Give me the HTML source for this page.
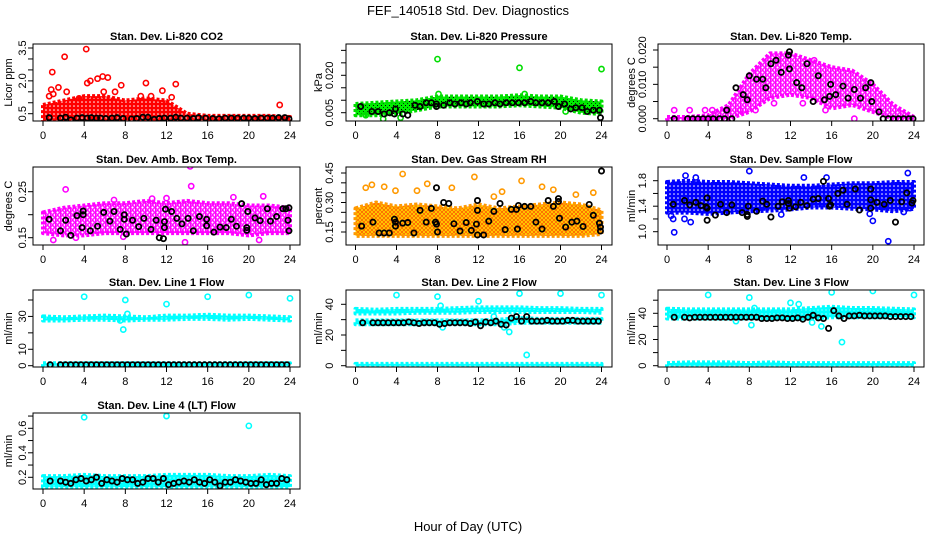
<!DOCTYPE html>
<html><head><meta charset="utf-8"><style>
body{margin:0;background:#fff}
svg{display:block;font-family:"Liberation Sans",Arial,sans-serif}
</style></head><body>
<svg id="chart" width="936" height="540" viewBox="0 0 936 540" xmlns="http://www.w3.org/2000/svg">
<defs>
<pattern id="pat-red" width="4" height="4" patternUnits="userSpaceOnUse"><rect width="4" height="4" fill="#ff0000"/><circle cx="2" cy="2" r="0.8" fill="#fff"/></pattern>
<pattern id="pat-mag" width="5" height="5" patternUnits="userSpaceOnUse"><rect width="5" height="5" fill="#fff"/><circle cx="2.5" cy="2.5" r="1.8" fill="none" stroke="#ff00ff" stroke-width="1.4"/><rect x="0" y="0" width="1" height="5" fill="#ff00ff"/></pattern>
<pattern id="pat-blue" width="4" height="4" patternUnits="userSpaceOnUse"><rect width="4" height="4" fill="#0000ff"/><circle cx="2" cy="2" r="0.8" fill="#fff"/></pattern>
<pattern id="pat-cyan" width="4" height="4" patternUnits="userSpaceOnUse"><rect width="4" height="4" fill="#00ffff"/><circle cx="2" cy="2" r="0.6" fill="#ccffff"/></pattern>
<pattern id="rhpat" width="4" height="4" patternUnits="userSpaceOnUse"><rect width="4" height="4" fill="#ffff00"/><circle cx="2" cy="2" r="1.5" fill="none" stroke="#ff7000" stroke-width="1.2"/></pattern>
<pattern id="prpat" width="4" height="4" patternUnits="userSpaceOnUse"><rect width="4" height="4" fill="#00ee00"/><rect x="1" y="1" width="1" height="1" fill="#000"/><rect x="3" y="3" width="1" height="1" fill="#004400"/></pattern>
</defs>
<text x="468" y="15" text-anchor="middle" font-size="13">FEF_140518  Std. Dev. Diagnostics</text>
<text x="468" y="531" text-anchor="middle" font-size="13">Hour of Day (UTC)</text>
</svg>
<script>
// ===== data =====
const H = [0,2,4,6,8,10,12,14,16,18,20,22,24];
const xTicks = [0,4,8,12,16,20,24];
// P1 CO2
const co2Lo = [0.2,0.2,0.2,0.2,0.2,0.2,0.2,0.2,0.2,0.2,0.2,0.2,0.2];
const co2Hi = [0.9,1.1,1.3,1.3,1.1,1.2,1.1,0.5,0.4,0.4,0.4,0.4,0.35];
const co2OutX = [0.6,0.9,0.8,1.0,1.5,2.1,2.3,4.2,4.3,4.6,5.3,5.8,5.9,6.3,7,7.6,10,11.6,12.9,12.5,23,3.5,9.5,10.5];
const co2OutY = [1.3,2.4,1.6,1.4,1.7,3.1,1.5,3.45,1.9,2.0,2.1,2.2,1.5,2.15,1.5,1.8,1.9,1.55,1.85,1.25,0.9,1.2,1.3,1.3];
const co2BX = [0.6,1.7,2.2,2.7,3.3,3.8,4.3,4.7,5.2,5.6,6.1,6.7,7.2,7.8,8.6,9.1,9.7,10.2,10.8,11.3,11.8,12.4,12.9,13.4,14,14.6,15.1,15.8,16.5,17.1,17.7,18.3,18.9,19.5,20,20.6,21.2,21.8,22.3,22.9,23.5,23.9];
const co2BY = [0.32,0.3,0.34,0.22,0.3,0.32,0.3,0.32,0.3,0.3,0.28,0.3,0.32,0.28,0.26,0.28,0.34,0.34,0.24,0.28,0.3,0.3,0.34,0.3,0.3,0.28,0.32,0.3,0.28,0.27,0.3,0.3,0.3,0.3,0.3,0.28,0.3,0.3,0.3,0.32,0.32,0.26];
// P2 Pressure
const prLo = [0.004,0.004,0.0045,0.006,0.0075,0.0075,0.0075,0.0075,0.008,0.0075,0.007,0.005,0.0045];
const prHi = [0.0085,0.009,0.0095,0.010,0.0115,0.0115,0.0115,0.0115,0.012,0.0115,0.0115,0.010,0.0095];
const prOutX = [8,16,24,8.1,2.7,4.4,20.5,1,16.5];
const prOutY = [0.0265,0.023,0.0225,0.0125,0.0025,0.003,0.0055,0.004,0.0125];
const prBX = [0.5,1.6,2.2,2.8,3.3,3.8,3.9,4.6,5.1,5.8,6.3,6.9,7.4,7.9,7.9,8.6,9.2,9.7,10.3,10.8,11.2,11.9,12.5,13.0,13.6,14.1,14.7,15.3,15.9,16.5,17.1,17.6,18.2,18.8,19.4,19.8,20.4,21,21.5,22.1,22.6,23.2,23.8,23.9];
const prBY = [0.0075,0.0055,0.0055,0.0045,0.005,0.0045,0.0065,0.0045,0.004,0.008,0.0075,0.009,0.009,0.0085,0.0075,0.008,0.009,0.0085,0.009,0.0085,0.009,0.0095,0.0085,0.0085,0.009,0.0085,0.009,0.009,0.009,0.009,0.0095,0.009,0.009,0.009,0.0095,0.0075,0.0085,0.0065,0.007,0.007,0.0055,0.006,0.006,0.003];
// P3 Li-820 Temp
const ltLo = [0,0,0,0,0.002,0.006,0.007,0.006,0.003,0.004,0.002,0,0];
const ltHi = [0.0005,0.0005,0.001,0.004,0.013,0.019,0.019,0.017,0.015,0.014,0.01,0.004,0.0005];
const ltOutX = [0.7,2.2,3.7,4.4,7.1,8.6,10.4,14.3,18.2,15.4,13.2];
const ltOutY = [0.0025,0.0025,0.0025,0.0025,0.0025,0.0025,0.0045,0.017,0,0.0025,0.0045];
const ltBX = [0.7,2,2.5,3,3.5,4,4.5,5.1,5.6,6.3,5.8,6.7,7.4,7.8,8,8.7,9.3,9.6,10.1,10.6,11.1,11.8,11.9,11.9,12.6,13.1,13.6,14.2,14.7,15.3,15.8,15.9,16.4,17.1,17.6,18.2,18.8,19.3,19.8,19.9,20.6,21,21.5,22,22.5,23,23.5,23.9];
const ltBY = [0,0,0,0,0,0,0,0,0,0,0.0025,0.009,0.007,0.0055,0.0125,0.0115,0.0115,0.009,0.016,0.017,0.0135,0.0185,0.0195,0.0145,0.0105,0.009,0.016,0.005,0.0125,0.0055,0.0065,0.010,0.007,0.0095,0.006,0.0085,0.006,0.009,0.0105,0.005,0.002,0,0,0,0,0,0,0];
// P4 Amb Box Temp
const abLo = [0.16,0.155,0.155,0.16,0.16,0.16,0.16,0.16,0.16,0.16,0.155,0.16,0.16];
const abHi = [0.205,0.215,0.22,0.225,0.225,0.23,0.225,0.23,0.225,0.225,0.22,0.22,0.215];
const abOutX = [14.3,14.4,2.2,1,13.8,21,6.9,18.5,21.4,12,10.6,3.2,7.8];
const abOutY = [0.305,0.262,0.255,0.145,0.14,0.145,0.232,0.238,0.24,0.236,0.235,0.15,0.152];
const abBX = [0.6,1.7,2.2,2.7,3.3,3.8,3.9,3.9,4.6,5.3,5.9,6.5,6.9,7.5,7.9,7.9,8.1,8.7,9.3,9.8,10.5,11,11.3,11.7,11.8,11.8,11.9,12.5,13,13.5,14.1,14.6,15.2,15.9,15.9,16.6,17.2,17.8,18.3,18.8,19.3,19.8,19.8,19.9,20.6,21.1,21.8,22.1,22.7,23.3,23.6,23.9,23.8,23.9];
const abBY = [0.19,0.165,0.188,0.155,0.198,0.172,0.208,0.2,0.165,0.175,0.205,0.186,0.207,0.168,0.2,0.19,0.158,0.188,0.174,0.192,0.168,0.188,0.15,0.148,0.172,0.185,0.212,0.207,0.192,0.18,0.192,0.165,0.196,0.176,0.19,0.162,0.173,0.172,0.19,0.175,0.224,0.166,0.172,0.207,0.193,0.187,0.213,0.186,0.196,0.213,0.213,0.215,0.188,0.165];
// P5 Gas Stream RH
const rhLo = [0.13,0.13,0.13,0.13,0.13,0.13,0.13,0.13,0.13,0.13,0.13,0.13,0.14];
const rhHi = [0.27,0.3,0.28,0.29,0.28,0.27,0.29,0.27,0.28,0.29,0.3,0.29,0.26];
const rhOutX = [4.6,11.6,16.2,7,1.6,1,2.8,9.4,3.9,18.2,19.3,14.3,23.2,6,13.5,21.5];
const rhOutY = [0.445,0.43,0.41,0.395,0.39,0.375,0.38,0.375,0.36,0.38,0.365,0.355,0.35,0.36,0.33,0.34];
const rhBX = [0.6,1.7,2.3,2.8,3.3,3.8,3.9,3.9,4.6,5.1,5.7,6.3,6.9,7.4,7.8,7.9,7.9,8,8.6,9.1,9.6,10.2,10.8,11.3,11.8,11.9,11.9,11.9,12.5,13,13.5,14.1,14.6,15.2,15.7,15.8,15.9,16.5,17.1,17.6,18.2,18.8,19.3,19.8,19.8,19.9,20.5,21.1,21.6,22.2,22.8,23.2,23.8,23.9,23.9,24];
const rhBY = [0.18,0.2,0.145,0.145,0.145,0.215,0.2,0.18,0.195,0.198,0.145,0.26,0.2,0.27,0.2,0.19,0.375,0.15,0.3,0.295,0.192,0.155,0.198,0.158,0.19,0.135,0.31,0.26,0.135,0.205,0.255,0.295,0.162,0.265,0.265,0.165,0.285,0.28,0.28,0.2,0.165,0.31,0.28,0.32,0.305,0.22,0.175,0.2,0.205,0.178,0.29,0.235,0.195,0.175,0.155,0.46];
// P6 Sample Flow
const sfLo = [1.3,1.3,1.28,1.3,1.32,1.33,1.35,1.38,1.38,1.36,1.35,1.32,1.36];
const sfHi = [1.78,1.8,1.78,1.78,1.76,1.74,1.72,1.72,1.74,1.76,1.76,1.78,1.78];
const sfOutX = [0.7,0.4,0.6,1.7,2.3,8,1.8,23.4,21.5,20,11.1,19.7,23.6,23,15.5,2.8,13.3];
const sfOutY = [0.99,1.25,1.2,1.2,1.15,1.95,1.88,1.92,0.85,1.17,1.27,1.28,1.37,1.31,1.85,1.85,1.85];
const sfBX = [0.6,1.7,2.2,2.8,3.3,3.8,3.9,3.9,3.9,4.7,5.2,5.8,6.3,7.3,7.8,7.8,7.9,8.7,9.3,9.7,10.1,10.8,11.2,11.8,11.8,11.9,12.5,13,13.6,14.2,14.7,15.2,15.7,15.8,15.9,16.6,17.1,17.5,18.3,18.7,19.8,19.8,19.8,20.4,21.1,21.7,22.2,22.8,23.3,23.8,23.9];
const sfBY = [1.43,1.49,1.42,1.46,1.41,1.39,1.53,1.37,1.18,1.26,1.43,1.3,1.42,1.3,1.27,1.24,1.4,1.32,1.48,1.43,1.23,1.4,1.47,1.44,1.49,1.37,1.39,1.46,1.41,1.51,1.52,1.79,1.52,1.4,1.42,1.6,1.65,1.43,1.67,1.34,1.67,1.5,1.37,1.46,1.43,1.49,1.15,1.47,1.61,1.45,1.49];
// shared hourly hours for black points on flow lines
const flowBX = [0.7,1.7,2.2,2.7,3.2,3.7,4.2,4.7,5.2,5.7,6.2,6.7,7.2,7.7,8.2,8.7,9.2,9.7,10.2,10.7,11.2,11.7,12.2,12.7,13.2,13.7,14.2,14.7,15.2,15.7,16.2,16.7,17.2,17.7,18.2,18.7,19.2,19.7,20.2,20.7,21.2,21.7,22.2,22.7,23.2,23.7];
// P7 Line 1
const l1ALo = [27.5,27.5,28,28,27.5,28,28,28.5,28.5,28,28.5,28,27.5];
const l1AHi = [30,29.5,30,30.5,30,29.5,30.5,30.5,31,30.5,30.5,30,29.5];
const l1BLo = [0,0,0,0,0,0,0,0,0,0,0,0,0];
const l1BHi = [1.5,1.5,1.5,1.5,1.5,1.5,1.5,1.5,1.5,1.5,1.5,1.5,1.5];
const l1OutX = [4,8,12,16,20,24,7.8,8.2,7.5];
const l1OutY = [42,40,37.5,42,43,41,22,31.5,27.5];
const l1BY = [0.6,0.6,0.6,0.6,0.6,0.6,0.6,0.6,0.6,0.6,0.6,0.6,0.6,0.6,0.6,0.6,0.6,0.6,0.6,0.6,0.6,0.6,0.6,0.6,0.6,0.6,0.6,0.6,0.6,0.6,0.6,0.6,0.6,0.6,0.6,0.6,0.6,0.6,0.6,0.6,0.6,0.6,0.6,0.6,0.6,0.6];
// P8 Line 2
const l2ALo = [34,34,34,34.5,34.5,34.5,35,35,35,35,35,35,34.5];
const l2AHi = [37,36.5,37,37,37,37.5,38,38,38,37.5,37.5,37,37];
const l2BLo = [27,27,27,27,27,27,27,27,28,28,28,28,28];
const l2BHi = [29.5,29.5,29.5,29.5,29.5,29.5,29.5,30,31,30.5,30.5,30.5,30.5];
const l2CLo = [0,0,0,0,0,0,0,0,0,0,0,0,0];
const l2CHi = [1.2,1.2,1.2,1.2,1.2,1.2,1.2,1.2,1.2,1.2,1.2,1.2,1.2];
const l2OutX = [4,8,12,16,20,24,16.7,15,8.5,8.3,13.5,14.5];
const l2OutY = [46,45,42,47,47,46,7,22,25,39,32,25];
const l2BY = [28,28,28,28,28,28,28,28,28.5,28,27.5,28,28,28,27,27.5,28,28,28,28,27.5,28.5,26,28.5,28,29,27,26.5,31,32,29,32,29,29,29,29.5,29,29,29,29.5,29.5,29,29,29,29,29];
// P9 Line 3
const l3ALo = [36,36,36,36,36,36,36,36,37,37,37,37,37];
const l3AHi = [43.5,43,43,43,43,43,43,44,45,44,44,43.5,43];
const l3BLo = [0,0,0,0,0,0,0,0,0,0,0,0,0];
const l3BHi = [2,2.5,2.5,2.5,2,2.5,2,2,2,2,2,2,2];
const l3OutX = [4,8,12,16,20,24,17,15,8.5,8.2,12.8,6.7,14.1];
const l3OutY = [54,52,48,56,57,54,18,30,44,31,47,34,33];
const l3BY = [37,37,36.5,37,37,37,37,37,37,37,37,37,37,37,37,37,36,36,36,36.5,36.5,36,36,36.5,35.5,37,38.5,36.5,36,28.5,42,38,36,38,38,38.5,38,38,38,38,38,37.5,37.5,37.5,37.5,37.5];
// P10 Line 4 (LT)
const l4Lo = [0.12,0.12,0.12,0.12,0.12,0.12,0.12,0.12,0.12,0.12,0.12,0.12,0.12];
const l4Hi = [0.21,0.21,0.22,0.21,0.21,0.21,0.22,0.22,0.22,0.21,0.21,0.22,0.21];
const l4OutX = [4,12,20];
const l4OutY = [0.69,0.70,0.62];
const l4BY = [0.17,0.17,0.16,0.15,0.18,0.19,0.17,0.18,0.2,0.15,0.18,0.17,0.16,0.19,0.18,0.18,0.15,0.16,0.19,0.19,0.16,0.19,0.14,0.15,0.16,0.17,0.16,0.18,0.16,0.15,0.18,0.16,0.13,0.16,0.16,0.18,0.17,0.16,0.15,0.15,0.18,0.14,0.15,0.15,0.19,0.18];

// ===== layout =====
const cols = [{x0:33,x1:300,h0:43,h24:290,tl:11,tt:25},{x0:346,x1:612,h0:355.5,h24:601.5,tl:17,tt:28},{x0:658,x1:924,h0:667,h24:914,tl:16,tt:27}];
const rows = [{y0:44,y1:121},{y0:167,y1:245},{y0:290,y1:367},{y0:413,y1:489}];
const NS = 'http://www.w3.org/2000/svg';
const svg = document.getElementById('chart');
function mk(tag, attrs, parent){const e=document.createElementNS(NS,tag);for(const k in attrs)e.setAttribute(k,attrs[k]);(parent||svg).appendChild(e);return e;}

const panels = [
 {key:'co2',title:'Stan. Dev. Li-820 CO2',ylab:'Licor ppm',c:0,r:0,v1:0.5,p1:113.7,v2:3.5,p2:48,ticks:[0.5,1,1.5,2,2.5,3,3.5],labels:[[0.5,'0.5'],[2,'2.0'],[3.5,'3.5']],col:'#ff0000',fill:'url(#pat-red)',bands:[[co2Lo,co2Hi]],ox:co2OutX,oy:co2OutY,bx:co2BX,by:co2BY},
 {key:'pressure',title:'Stan. Dev. Li-820 Pressure',ylab:'kPa',c:1,r:0,v1:0.005,p1:112.7,v2:0.020,p2:75.3,ticks:[0.005,0.01,0.015,0.02,0.025,0.03],labels:[[0.005,'0.005'],[0.02,'0.020']],col:'#00dd00',fill:'url(#prpat)',bands:[[prLo,prHi]],ox:prOutX,oy:prOutY,bx:prBX,by:prBY},
 {key:'li-temp',title:'Stan. Dev. Li-820 Temp.',ylab:'degrees C',c:2,r:0,v1:0,p1:118.7,v2:0.02,p2:50,ticks:[0,0.005,0.01,0.015,0.02],labels:[[0,'0.000'],[0.01,'0.010'],[0.02,'0.020']],col:'#ff00ff',fill:'url(#pat-mag)',bands:[[ltLo,ltHi]],ox:ltOutX,oy:ltOutY,bx:ltBX,by:ltBY},
 {key:'amb-temp',title:'Stan. Dev. Amb. Box Temp.',ylab:'degrees C',c:0,r:1,v1:0.15,p1:237.7,v2:0.25,p2:191.7,ticks:[0.15,0.2,0.25],labels:[[0.15,'0.15'],[0.25,'0.25']],col:'#ff00ff',fill:'url(#pat-mag)',bands:[[abLo,abHi]],ox:abOutX,oy:abOutY,bx:abBX,by:abBY},
 {key:'rh',title:'Stan. Dev. Gas Stream RH',ylab:'percent',c:1,r:1,v1:0.15,p1:232,v2:0.45,p2:173,ticks:[0.15,0.2,0.25,0.3,0.35,0.4,0.45],labels:[[0.15,'0.15'],[0.3,'0.30'],[0.45,'0.45']],col:'#ff9900',fill:'url(#rhpat)',bands:[[rhLo,rhHi]],ox:rhOutX,oy:rhOutY,bx:rhBX,by:rhBY},
 {key:'sample-flow',title:'Stan. Dev. Sample Flow',ylab:'ml/min',c:2,r:1,v1:1.0,p1:231.7,v2:1.8,p2:180.7,ticks:[1.0,1.2,1.4,1.6,1.8],labels:[[1.0,'1.0'],[1.4,'1.4'],[1.8,'1.8']],col:'#0000ff',fill:'url(#pat-blue)',bands:[[sfLo,sfHi]],ox:sfOutX,oy:sfOutY,bx:sfBX,by:sfBY},
 {key:'line1',title:'Stan. Dev. Line 1 Flow',ylab:'ml/min',c:0,r:2,v1:0,p1:365.7,v2:40,p2:300,ticks:[0,10,20,30,40],labels:[[0,'0'],[10,'10'],[30,'30']],col:'#00ffff',fill:'url(#pat-cyan)',bands:[[l1ALo,l1AHi],[l1BLo,l1BHi]],ox:l1OutX,oy:l1OutY,bx:flowBX,by:l1BY},
 {key:'line2',title:'Stan. Dev. Line 2 Flow',ylab:'ml/min',c:1,r:2,v1:0,p1:365.7,v2:40,p2:304.3,ticks:[0,10,20,30,40],labels:[[0,'0'],[20,'20'],[40,'40']],col:'#00ffff',fill:'url(#pat-cyan)',bands:[[l2ALo,l2AHi],[l2BLo,l2BHi],[l2CLo,l2CHi]],ox:l2OutX,oy:l2OutY,bx:flowBX,by:l2BY},
 {key:'line3',title:'Stan. Dev. Line 3 Flow',ylab:'ml/min',c:2,r:2,v1:0,p1:365.7,v2:40,p2:313.3,ticks:[0,10,20,30,40,50],labels:[[0,'0'],[20,'20'],[40,'40']],col:'#00ffff',fill:'url(#pat-cyan)',bands:[[l3ALo,l3AHi],[l3BLo,l3BHi]],ox:l3OutX,oy:l3OutY,bx:flowBX,by:l3BY},
 {key:'line4',title:'Stan. Dev. Line 4 (LT) Flow',ylab:'ml/min',c:0,r:3,v1:0.2,p1:477.3,v2:0.6,p2:428.3,ticks:[0.2,0.3,0.4,0.5,0.6,0.7],labels:[[0.2,'0.2'],[0.4,'0.4'],[0.6,'0.6']],col:'#00ffff',fill:'url(#pat-cyan)',bands:[[l4Lo,l4Hi]],ox:l4OutX,oy:l4OutY,bx:flowBX,by:l4BY}
];

panels.forEach(p=>{
  const C=cols[p.c], R=rows[p.r];
  const xs=v=>C.h0+(v/24)*(C.h24-C.h0);
  const ys=v=>p.p1+(v-p.v1)*(p.p2-p.p1)/(p.v2-p.v1);
  const g=mk('g',{});
  
  
  const clipId='clip-'+p.key;
  const cp=mk('clipPath',{id:clipId},g); mk('rect',{x:C.x0,y:R.y0,width:C.x1-C.x0,height:R.y1-R.y0},cp);
  const plot=mk('g',{'clip-path':'url(#'+clipId+')'},g);
  // bands (dense point clouds)
  p.bands.forEach((b,i)=>{
    const lo=b[0],hi=b[1];
    let pts=H.map((h,j)=>xs(h)+','+ys(hi[j]));
    for(let j=H.length-1;j>=0;j--) pts.push(xs(H[j])+','+ys(lo[j]));
    const poly=mk('polygon',{points:pts.join(' '),fill:p.fill,stroke:p.col,'stroke-width':4,'stroke-dasharray':'3 2','stroke-linejoin':'round'},plot);
    
    
  });
  // outliers
  p.ox.forEach((x,i)=>{
    const c=mk('circle',{cx:xs(x),cy:ys(p.oy[i]),r:2.6,fill:'none',stroke:p.col,'stroke-width':1.6},plot);
    
    
  });
  // black points
  p.bx.forEach((x,i)=>{
    const c=mk('circle',{cx:xs(x),cy:ys(p.by[i]),r:2.6,fill:'none',stroke:'#000','stroke-width':1.8},plot);
    
    
  });
  // box
  const box=mk('rect',{x:C.x0,y:R.y0,width:C.x1-C.x0,height:R.y1-R.y0,fill:'none',stroke:'#000','stroke-width':1},g);
  
  
  // x axis
  mk('line',{x1:xs(0),x2:xs(24),y1:R.y1,y2:R.y1,stroke:'#000'},g);
  xTicks.forEach(t=>{
    mk('line',{x1:xs(t),x2:xs(t),y1:R.y1,y2:R.y1+5,stroke:'#000'},g);
    const tx=mk('text',{x:xs(t),y:R.y1+18,'text-anchor':'middle','font-size':11},g);
    tx.textContent=t;
    
    
  });
  // y axis
  const yt=p.ticks.map(ys);
  mk('line',{x1:C.x0,x2:C.x0,y1:Math.min(...yt),y2:Math.max(...yt),stroke:'#000'},g);
  p.ticks.forEach(t=>mk('line',{x1:C.x0-5,x2:C.x0,y1:ys(t),y2:ys(t),stroke:'#000'},g));
  p.labels.forEach(l=>{
    const lx=C.x0-C.tl, ly=ys(l[0]);
    const tx=mk('text',{x:lx,y:ly,'text-anchor':'middle','font-size':11,transform:'rotate(-90 '+lx+' '+ly+')',dy:'0.35em'},g);
    tx.textContent=l[1];
    
    
  });
  const yx=C.x0-C.tt, yy=(R.y0+R.y1)/2;
  const yl=mk('text',{x:yx,y:yy,'text-anchor':'middle','font-size':11,transform:'rotate(-90 '+yx+' '+yy+')',dy:'0.35em'},g);
  yl.textContent=p.ylab;
  
  
  const tt=mk('text',{x:(C.x0+C.x1)/2,y:R.y0-4,'text-anchor':'middle','font-size':11,'font-weight':'bold'},g);
  tt.textContent=p.title;
  
  
});
</script>
</body></html>
